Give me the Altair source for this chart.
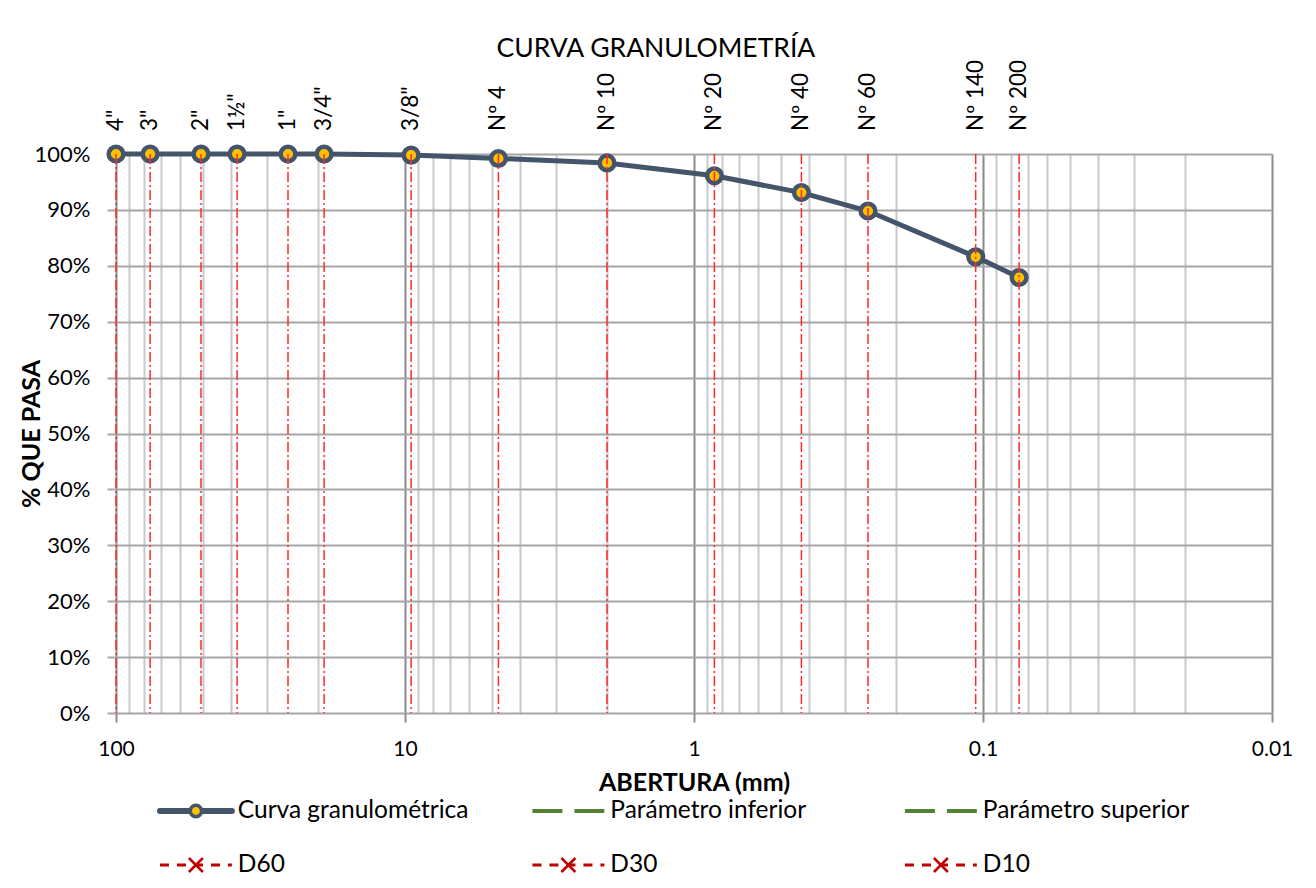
import altair as alt
import pandas as pd

# ---------------- data ----------------
sieve_names = ['4"', '3"', '2"', '1½"', '1"', '3/4"', '3/8"',
               'Nº 4', 'Nº 10', 'Nº 20', 'Nº 40', 'Nº 60', 'Nº 140', 'Nº 200']
aperture_mm = [100.0, 76.2, 50.8, 38.1, 25.4, 19.05, 9.525,
               4.75, 2.0, 0.85, 0.425, 0.25, 0.106, 0.075]
percent_passing = [100.0, 100.0, 100.0, 100.0, 100.0, 100.0, 99.8,
                   99.2, 98.4, 96.1, 93.1, 89.8, 81.6, 77.9]

x_grid_values = [100, 90, 80, 70, 60, 50, 40, 30, 20,
                 10, 9, 8, 7, 6, 5, 4, 3, 2,
                 1, 0.9, 0.8, 0.7, 0.6, 0.5, 0.4, 0.3, 0.2,
                 0.1, 0.09, 0.08, 0.07, 0.06, 0.05, 0.04, 0.03, 0.02,
                 0.01]
x_label_values = [100, 10, 1, 0.1, 0.01]
y_tick_values = [0, 10, 20, 30, 40, 50, 60, 70, 80, 90, 100]

legend_series = ["Curva granulométrica", "Parámetro inferior", "Parámetro superior",
                 "D60", "D30", "D10"]

# ---------------- styles ----------------
FONT = "Lato"
NAVY = "#44546A"
YELLOW = "#FFC000"
GREEN = "#548235"
DARKRED = "#C00000"
SIEVE_RED = "#FF2A2A"

df = pd.DataFrame({"sieve": sieve_names, "mm": aperture_mm, "pct": percent_passing})

decade_list = "[" + ", ".join(repr(v) for v in x_label_values) + "]"
decade_test = f"indexof({decade_list}, datum.value) >= 0"

x_scale = alt.Scale(type="log", domain=[0.01, 100], reverse=True, nice=False)
y_scale = alt.Scale(domain=[0, 100], nice=False)

x_axis = alt.Axis(
    values=x_grid_values,
    labelExpr=f"{decade_test} ? format(datum.value, '~g') : ''",
    title="ABERTURA (mm)",
    grid=True,
    gridColor={"condition": {"test": decade_test, "value": "#8C8C8C"}, "value": "#C9C9C9"},
    gridWidth=2,
    tickOpacity={"condition": {"test": decade_test, "value": 1}, "value": 0},
    tickSize=9, tickColor="#8C8C8C", tickWidth=2,
    domain=False,
    labelFontSize=21, labelColor="black", labelPadding=16,
    labelFlush=False, labelOverlap=False, labelFont=FONT,
    titleFontSize=25, titleFontWeight="bold", titleColor="black",
    titlePadding=11, titleFont=FONT,
)
y_axis = alt.Axis(
    values=y_tick_values,
    labelExpr="datum.value + '%'",
    title="% QUE PASA",
    grid=True, gridColor="#A6A6A6", gridWidth=2,
    tickSize=9, tickColor="#A6A6A6", tickWidth=2,
    domain=False,
    labelFontSize=22, labelColor="black", labelPadding=17, labelFont=FONT,
    titleFontSize=25, titleFontWeight="bold", titleColor="black",
    titlePadding=-10, titleFont=FONT,
)


def X():
    return alt.X("mm:Q", scale=x_scale, axis=x_axis)


def Y(field):
    return alt.Y(field, scale=y_scale, axis=y_axis)


base = alt.Chart(df)

sieve_rules = base.mark_rule(color=SIEVE_RED, strokeWidth=1.5,
                             strokeDash=[10, 3, 2, 3]).encode(x=X())
curve = base.mark_line(color=NAVY, strokeWidth=5).encode(x=X(), y=Y("pct:Q"))
points = base.mark_point(shape="circle", filled=True, fill=YELLOW, stroke=NAVY,
                         strokeWidth=4.5, size=215, opacity=1).encode(x=X(), y=Y("pct:Q"))
sieve_text = base.transform_calculate(top="100").mark_text(
    angle=270, align="left", baseline="middle", dx=23,
    fontSize=22.5, font=FONT, color="black"
).encode(x=X(), y=Y("top:Q"), text="sieve:N")

main = alt.layer(curve, points, sieve_rules, sieve_text).properties(
    width=1156, height=559,
    title=alt.TitleParams("CURVA GRANULOMETRÍA", fontSize=26.5, font=FONT,
                          fontWeight="normal", color="black",
                          anchor="middle", frame="bounds", offset=-3),
)

# ---------------- legend (drawn as its own small view) ----------------
leg_df = pd.DataFrame({"name": legend_series})
leg_base = alt.Chart(leg_df).transform_window(
    idx="row_number()"
).transform_calculate(
    col="(datum.idx - 1) % 3",
    row="floor((datum.idx - 1) / 3)",
    x0="datum.col + 0.118",
    x1="datum.col + 0.311",
    xm="datum.col + 0.2145",
    xt="datum.col + 0.327",
)
lx = alt.Scale(domain=[0, 3], nice=False)
ly = alt.Scale(domain=[0, 1], reverse=True, nice=False)


def LX(f):
    return alt.X(f, scale=lx, axis=None)


def LY():
    return alt.Y("row:Q", scale=ly, axis=None)


is_curve = alt.FieldEqualPredicate(field="name", equal=legend_series[0])
is_param = alt.FieldOneOfPredicate(field="name", oneOf=legend_series[1:3])
is_d = alt.FieldOneOfPredicate(field="name", oneOf=legend_series[3:])

leg_curve_line = leg_base.transform_filter(is_curve).mark_rule(
    color=NAVY, strokeWidth=6, strokeCap="round"
).encode(x=LX("x0:Q"), x2="x1:Q", y=LY())
leg_curve_dot = leg_base.transform_filter(is_curve).mark_point(
    shape="circle", filled=True, fill=YELLOW, stroke=NAVY, strokeWidth=3.5, size=130, opacity=1
).encode(x=LX("xm:Q"), y=LY())
leg_param = leg_base.transform_filter(is_param).mark_rule(
    color=GREEN, strokeWidth=4, strokeDash=[30, 12]
).encode(x=LX("x0:Q"), x2="x1:Q", y=LY())
leg_d_line = leg_base.transform_filter(is_d).mark_rule(
    color=DARKRED, strokeWidth=3, strokeDash=[9, 8]
).encode(x=LX("x0:Q"), x2="x1:Q", y=LY())
leg_d_x = leg_base.transform_filter(is_d).mark_point(
    shape="M-1,-1L1,1M-1,1L1,-1", filled=False, stroke=DARKRED, strokeWidth=2.5,
    size=196, opacity=1
).encode(x=LX("xm:Q"), y=LY())
leg_text = leg_base.mark_text(
    align="left", baseline="middle", fontSize=24.5, font=FONT, color="black"
).encode(x=LX("xt:Q"), y=LY(), text="name:N")

legend_chart = alt.layer(
    leg_curve_line, leg_curve_dot, leg_param, leg_d_line, leg_d_x, leg_text
).properties(width=1117.5, height=54)

chart = alt.vconcat(main, legend_chart, spacing=98, bounds="flush").properties(
    padding={"left": 19, "top": 36, "right": 20, "bottom": 10},
    background="white",
).configure(font=FONT).configure_view(strokeWidth=0)

chart.save("out.html", embed_options={"renderer": "svg", "actions": False})
